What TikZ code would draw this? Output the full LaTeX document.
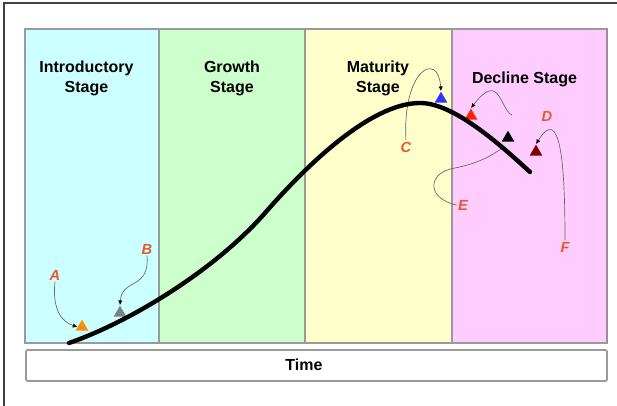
\documentclass[tikz,border=0pt]{standalone}
\usepackage{fontspec}
\setmainfont{Liberation Sans}
\usetikzlibrary{shapes.geometric,arrows.meta,positioning}

\definecolor{introcol}{HTML}{CCFFFF}
\definecolor{growthcol}{HTML}{CCFFCC}
\definecolor{maturecol}{HTML}{FFFFCC}
\definecolor{declinecol}{HTML}{FFCCFF}
\definecolor{lettercol}{HTML}{E8582E}
\definecolor{framecol}{HTML}{9A9A9A}
\definecolor{pinkedge}{HTML}{A08AA0}

\tikzset{
  panel/.style={draw=framecol, line width=0.8pt},
  stagetext/.style={font=\fontsize{12}{15}\selectfont\bfseries, align=center, inner sep=0pt},
  letter/.style={font=\fontsize{11}{13}\selectfont\bfseries\itshape, text=lettercol, inner sep=1pt},
  marker/.style={regular polygon, regular polygon sides=3, fill=#1, inner sep=0pt, minimum size=11pt},
  pointer/.style={draw=gray!80!black, line width=0.5pt, -{Latex[length=3.5pt,width=3.2pt,color=black]}},
  lifeline/.style={line width=3.3pt, line cap=round},
}

\begin{document}
\begin{tikzpicture}[x=0.75pt, y=-0.75pt]
  \useasboundingbox (0,0) rectangle (617,406);
  %% outer frame (cut at right and bottom)
  \draw [line width=1.4pt, black!75] (4,406) |- (617,3);

  %% stage panels
  \fill [introcol]   (25,29) rectangle (159,343);
  \fill [growthcol]  (159,29) rectangle (305,343);
  \fill [maturecol]  (305,29) rectangle (452,343);
  \fill [declinecol] (452,29) rectangle (607,343);
  \draw [panel] (25,29) rectangle (607,343);
  \foreach \x in {159,305,452}
    \draw [panel] (\x,29) -- (\x,343);
  \draw [pinkedge, line width=0.8pt] (607,29) -- (607,343);

  %% time bar
  \draw [panel, line width=1.2pt, rounded corners=1pt] (26,350) rectangle (607,381);
  \node [font=\fontsize{12}{14}\selectfont\bfseries] (time) at (304,365) {Time};

  %% stage titles
  \node [stagetext] (intro)   at (86.5,78)  {Introductory\\Stage};
  \node [stagetext] (growth)  at (232,78)   {Growth\\Stage};
  \node [stagetext] (mature)  at (378,78)   {Maturity\\Stage};
  \node [stagetext] (decline) at (524.5,79) {Decline Stage};

  %% letters
  \node [letter] (lblA) at (55,275)  {A};
  \node [letter] (lblB) at (147,249) {B};
  \node [letter] (lblC) at (406,147) {C};
  \node [letter] (lblD) at (547,116) {D};
  \node [letter] (lblE) at (463,205) {E};
  \node [letter] (lblF) at (565,247) {F};

  %% markers on the curve
  \node [marker={orange!90!yellow}]   (triA) at (82,327)  {};
  \node [marker=gray]                 (triB) at (120,313) {};
  \node [marker={blue!80}]            (triC) at (441,99)  {};
  \node [marker={red!75!orange}]      (triR) at (471,116) {};
  \node [marker=black]                (triE) at (508,138) {};
  \node [marker={red!50!black}]       (triD) at (536,152) {};

  %% free ends
  \coordinate (startR) at (512,115);
  \coordinate (endE) at (501,149);

  %% pointers
  \draw [pointer] (lblA.south) .. controls (52,310) and (62,322) .. (triA.west);
  \draw [pointer] (lblB.south) .. controls (150,290) and (122,278) .. (triB.north);
  \draw [pointer] (lblC.north) .. controls (402,70) and (438,50) .. (triC.north);
  \draw [pointer] (startR) .. controls (500,110) and (500,70) .. (triR.north);
  \draw [draw=gray!80!black, line width=0.5pt] (lblE.west) .. controls (425,198) and (428,172) .. (455,168)
    .. controls (480,163) and (492,155) .. (endE);
  \draw [pointer] (lblF.north) .. controls (565,160) and (560,105) .. (triD.north);

  %% life cycle curve
  \draw [lifeline] (69,343) .. controls (130,322) and (215,270) .. (265,213)
    .. controls (305,167) and (370,103) .. (420,103)
    .. controls (450,103) and (490,135) .. (530,172);
\end{tikzpicture}
\end{document}
